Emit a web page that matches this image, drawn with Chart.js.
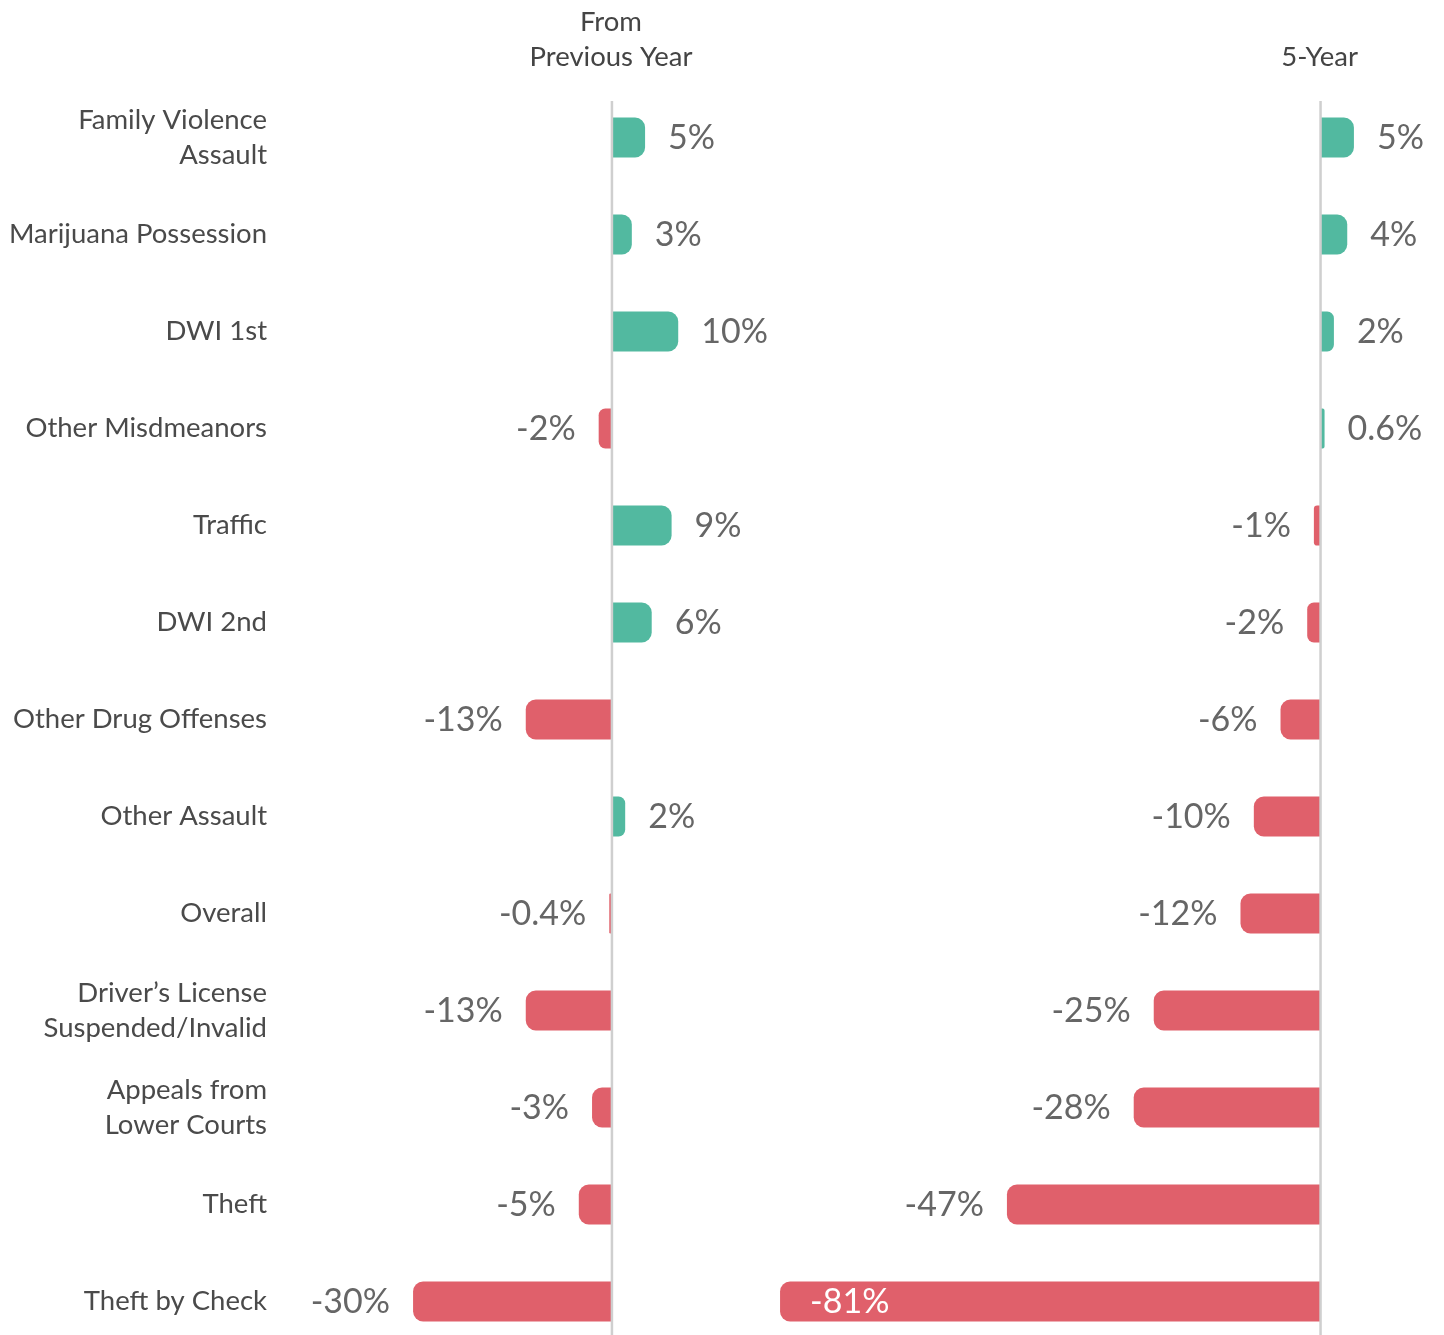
<!DOCTYPE html>
<html>
<head>
<meta charset="utf-8">
<script src="https://cdn.jsdelivr.net/npm/chart.js@4.4.0/dist/chart.umd.min.js"></script>
<style>
  html, body { margin: 0; padding: 0; background: #fff; overflow: hidden; }
  #wrap { position: relative; width: 1444px; height: 1335px; overflow: hidden; }
  .box { position: absolute; top: 0; height: 1350px; }
  #box-ano { left: 0; width: 800px; }
  #box-5anos { left: 720px; width: 724px; }
</style>
</head>
<body>
<div id="wrap">
  <div class="box" id="box-ano"><canvas id="canvas-ano-anterior"></canvas></div>
  <div class="box" id="box-5anos"><canvas id="canvas-5-anos"></canvas></div>
</div>
<script>
const categorias = [
  ["Family Violence", "Assault"],
  "Marijuana Possession",
  "DWI 1st",
  "Other Misdmeanors",
  "Traffic",
  "DWI 2nd",
  "Other Drug Offenses",
  "Other Assault",
  "Overall",
  ["Driver\u2019s License", "Suspended/Invalid"],
  ["Appeals from", "Lower Courts"],
  "Theft",
  "Theft by Check",
];
const variacaoAnoAnterior = [5, 3, 10, -2, 9, 6, -13, 2, -0.4, -13, -3, -5, -30];
const variacao5Anos = [5, 4, 2, 0.6, -1, -2, -6, -10, -12, -25, -28, -47, -81];
const cabecalhoAnoAnterior = ["From", "Previous Year"];
const cabecalho5Anos = ["5-Year"];

const VERDE = "#52b9a0";
const VERMELHO = "#e0606b";

Chart.defaults.font.family = "Lato, 'Open Sans', sans-serif";

function formatar(v) {
  return v + "%";
}

const rotulosPlugin = {
  id: "rotulos",
  beforeDatasetsDraw(chart, args, opts) {
    const ctx = chart.ctx;
    const zero = chart.scales.x.getPixelForValue(0);
    ctx.save();
    // cabecalho
    ctx.fillStyle = "#444";
    ctx.font = "27.5px Lato";
    ctx.textAlign = "center";
    ctx.textBaseline = "middle";
    const linhas = opts.cabecalho || [];
    linhas.forEach((t, i) => {
      ctx.fillText(t, zero - 1, 57 - (linhas.length - 1 - i) * 35);
    });
    ctx.restore();
  },
  afterDatasetsDraw(chart) {
    const ctx = chart.ctx;
    const area = chart.chartArea;
    const zero = chart.scales.x.getPixelForValue(0);
    const meta = chart.getDatasetMeta(0);
    const valores = chart.data.datasets[0].data;
    ctx.save();
    // linha do zero por cima das barras
    ctx.strokeStyle = "#cfcfcf";
    ctx.lineWidth = 2.5;
    ctx.beginPath();
    ctx.moveTo(zero, area.top + 12);
    ctx.lineTo(zero, area.bottom);
    ctx.stroke();

    ctx.font = "34px Lato";
    ctx.textBaseline = "middle";
    meta.data.forEach((bar, i) => {
      const v = valores[i];
      const texto = formatar(v);
      const w = ctx.measureText(texto).width;
      let x, alinhar, cor = "#666";
      if (v >= 0) {
        x = bar.x + 23;
        alinhar = "left";
      } else {
        x = bar.x - 23;
        alinhar = "right";
        if (x - w < area.left) {
          // nao cabe fora: dentro da barra
          x = bar.x + 30;
          alinhar = "left";
          cor = "#fff";
        }
      }
      ctx.fillStyle = cor;
      ctx.textAlign = alinhar;
      ctx.fillText(texto, x, bar.y + 1);
    });
    ctx.restore();
  },
};

function criarGrafico(id, valores, cabecalho, min, max, mostrarCategorias, folgaDireita) {
  return new Chart(document.getElementById(id), {
    type: "bar",
    plugins: [rotulosPlugin],
    data: {
      labels: categorias,
      datasets: [
        {
          data: valores,
          backgroundColor: valores.map((v) => (v >= 0 ? VERDE : VERMELHO)),
          borderRadius: 10,
          borderSkipped: "start",
          categoryPercentage: 1,
          barPercentage: 0.412,
        },
      ],
    },
    options: {
      indexAxis: "y",
      responsive: true,
      maintainAspectRatio: false,
      animation: false,
      layout: {
        padding: { top: 89, left: 0, right: folgaDireita, bottom: 0 },
      },
      scales: {
        x: {
          display: false,
          min: min,
          max: max,
        },
        y: {
          display: mostrarCategorias,
          afterFit: (scale) => {
            if (mostrarCategorias) scale.width = 307;
            scale.paddingTop = 0;
            scale.paddingBottom = 0;
          },
          grid: { display: false, drawTicks: false },
          border: { display: false },
          ticks: {
            padding: 40,
            color: "#4a4a4a",
            font: { size: 27.5, lineHeight: 1.27 },
          },
        },
      },
      plugins: {
        legend: { display: false },
        tooltip: { enabled: false },
        rotulos: { cabecalho: cabecalho },
      },
    },
  });
}

criarGrafico("canvas-ano-anterior", variacaoAnoAnterior, cabecalhoAnoAnterior, -46, 16, true, 82);
criarGrafico("canvas-5-anos", variacao5Anos, cabecalho5Anos, -90, 18.5, false, 0);
</script>
</body>
</html>
